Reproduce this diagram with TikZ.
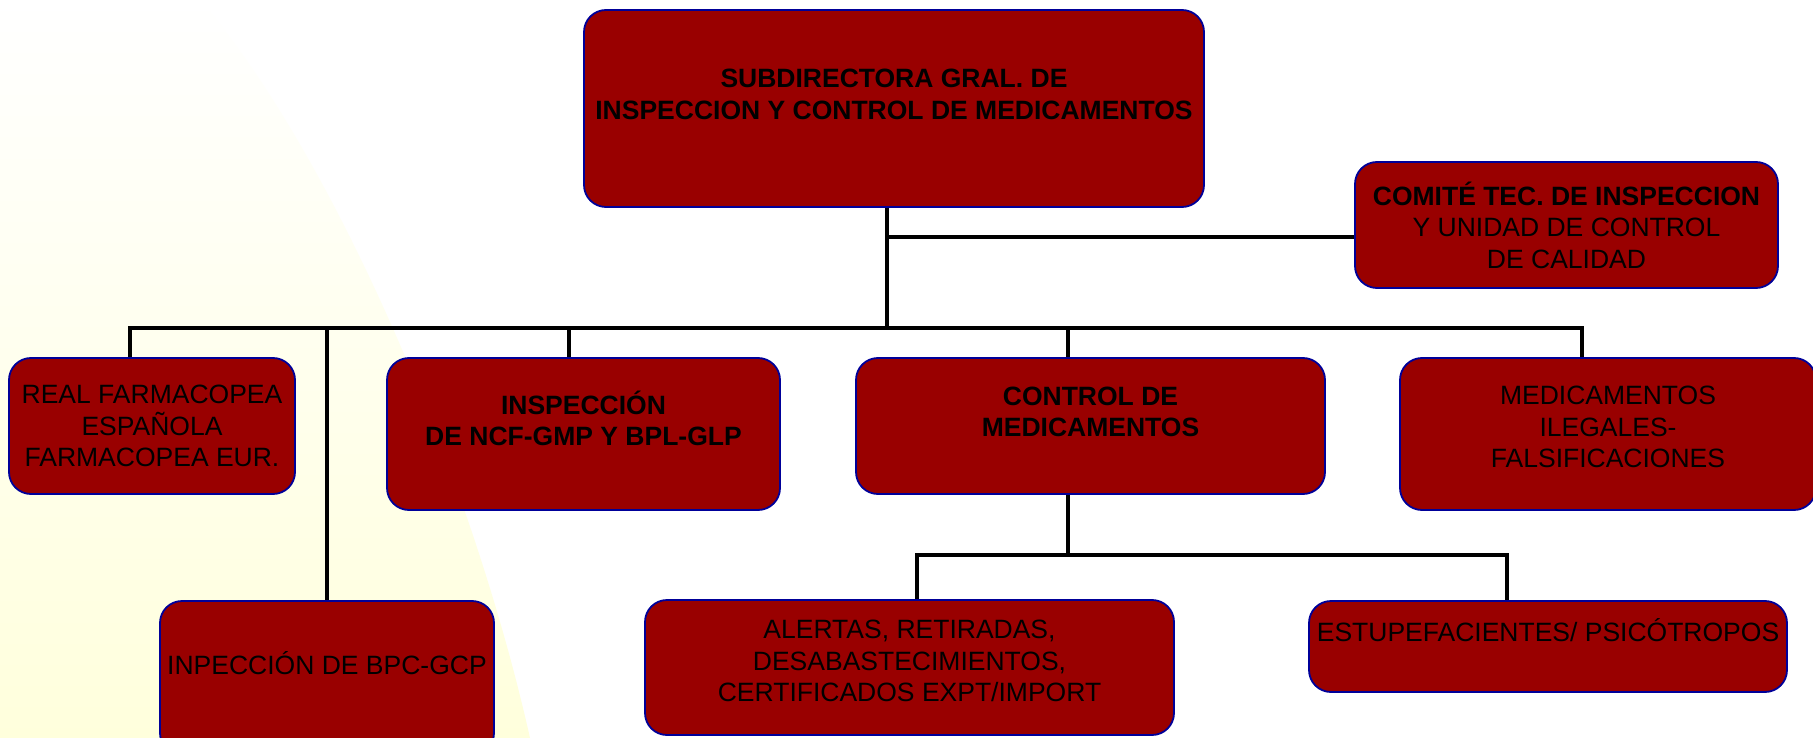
\documentclass[tikz,border=0pt]{standalone}
\usepackage{fontspec}
\setmainfont{Liberation Sans}
\definecolor{unitred}{RGB}{153,0,0}
\definecolor{unitblue}{RGB}{0,0,153}
\definecolor{bgyellow}{RGB}{255,255,220}
\tikzset{
  unit/.style={draw=unitblue,line width=1.8pt,fill=unitred,rounded corners=22pt},
  unittext/.style={align=center,text=black,font=\fontsize{26.5}{31.5}\selectfont},
  boldtext/.style={unittext,font=\fontsize{26.5}{31.5}\selectfont\bfseries},
  link/.style={draw=black,line width=3.4pt},
}
\begin{document}
\begin{tikzpicture}[x=1pt,y=-1pt]
  \useasboundingbox (0,0) rectangle (1813,738);
  \fill[white] (0,0) rectangle (1813,738);
  \shade[top color=white,bottom color=bgyellow] (0,0) -- (200,0) .. controls (330,150) and (470,470) .. (530,738) -- (0,738) -- cycle;

  \node[unit,minimum width=620pt,minimum height=197pt] (sub) at (894,108.5) {};
  \node[unit,minimum width=423pt,minimum height=126pt] (comite) at (1566.5,225) {};
  \node[unit,minimum width=286pt,minimum height=136pt] (rfe) at (152,426) {};
  \node[unit,minimum width=393pt,minimum height=152pt] (insp) at (583.5,434) {};
  \node[unit,minimum width=469pt,minimum height=136pt] (ctrl) at (1090.5,426) {};
  \node[unit,minimum width=416pt,minimum height=152pt] (ilegal) at (1608,434) {};
  \node[unit,minimum width=334pt,minimum height=154pt] (bpc) at (327,678) {};
  \node[unit,minimum width=529pt,minimum height=135pt] (alertas) at (909.5,667.5) {};
  \node[unit,minimum width=478pt,minimum height=91pt] (estupe) at (1548,646.5) {};

  \node[boldtext] (sub-t) at ([yshift=14pt]sub.center) {SUBDIRECTORA GRAL. DE\\INSPECCION Y CONTROL DE MEDICAMENTOS};
  \node[unittext] (comite-t) at (comite.center) {\textbf{COMITÉ TEC. DE INSPECCION}\\Y UNIDAD DE CONTROL\\DE CALIDAD};
  \node[unittext] (rfe-t) at (rfe.center) {REAL FARMACOPEA\\ESPAÑOLA\\FARMACOPEA EUR.};
  \node[boldtext] (insp-t) at ([yshift=15.5pt]insp.center) {INSPECCIÓN\\DE NCF-GMP Y BPL-GLP};
  \node[boldtext] (ctrl-t) at ([yshift=14pt]ctrl.center) {CONTROL DE\\MEDICAMENTOS};
  \node[unittext] (ilegal-t) at ([yshift=7pt]ilegal.center) {MEDICAMENTOS\\ILEGALES-\\FALSIFICACIONES};
  \node[unittext] (bpc-t) at ([yshift=15pt]bpc.center) {INPECCIÓN DE BPC-GCP};
  \node[unittext] (alertas-t) at ([yshift=6.5pt]alertas.center) {ALERTAS, RETIRADAS,\\DESABASTECIMIENTOS,\\CERTIFICADOS EXPT/IMPORT};
  \node[unittext] (estupe-t) at ([yshift=16.5pt]estupe.center) {ESTUPEFACIENTES/ PSICÓTROPOS};

  \coordinate (hub) at (887,328);
  \coordinate (dRfe) at (130,328);
  \coordinate (dBpc) at (327,328);
  \coordinate (dInsp) at (569,328);
  \coordinate (dCtrl) at (1068,328);
  \coordinate (dIlegal) at (1582,328);
  \coordinate (dAlertas) at (917,555);
  \coordinate (dEstupe) at (1507,555);

  \path[link] (sub.south -| hub) -- (hub);
  \path[link] ([yshift=-12pt]comite.west) -- ([yshift=-12pt]comite.west -| hub);
  \path[link] (dRfe |- rfe.north) -- (dRfe) -- (dIlegal) -- (dIlegal |- ilegal.north);
  \path[link] (dBpc) -- (bpc.north);
  \path[link] (dInsp) -- (dInsp |- insp.north);
  \path[link] (dCtrl) -- (dCtrl |- ctrl.north);
  \path[link] (dCtrl |- ctrl.south) -- (dCtrl |- dAlertas);
  \path[link] (dAlertas |- alertas.north) -- (dAlertas) -- (dEstupe) -- (dEstupe |- estupe.north);
\end{tikzpicture}
\end{document}
